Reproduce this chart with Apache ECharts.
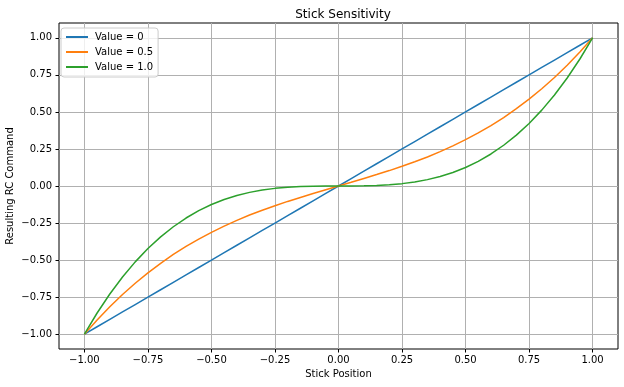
<!DOCTYPE html>
<html>
<head>
<meta charset="utf-8">
<script src="https://cdn.jsdelivr.net/npm/echarts@6/dist/echarts.min.js"></script>
<style>html,body{margin:0;padding:0;background:#fff;}#c{width:624px;height:387px;}</style>
</head>
<body>
<div id="c"></div>
<script>
var stickPos = [-1, -0.95, -0.9, -0.85, -0.8, -0.75, -0.7, -0.65, -0.6, -0.55, -0.5, -0.45, -0.4, -0.35, -0.3, -0.25, -0.2, -0.15, -0.1, -0.05, 0,
  0.05, 0.1, 0.15, 0.2, 0.25, 0.3, 0.35, 0.4, 0.45, 0.5, 0.55, 0.6, 0.65, 0.7, 0.75, 0.8, 0.85, 0.9, 0.95, 1];
var value0 = [-1, -0.95, -0.9, -0.85, -0.8, -0.75, -0.7, -0.65, -0.6, -0.55, -0.5, -0.45, -0.4, -0.35, -0.3, -0.25, -0.2, -0.15, -0.1, -0.05, 0,
  0.05, 0.1, 0.15, 0.2, 0.25, 0.3, 0.35, 0.4, 0.45, 0.5, 0.55, 0.6, 0.65, 0.7, 0.75, 0.8, 0.85, 0.9, 0.95, 1];
var value05 = [-1, -0.904, -0.815, -0.732, -0.656, -0.586, -0.522, -0.462, -0.408, -0.358, -0.313, -0.271, -0.232, -0.196, -0.164, -0.133, -0.104, -0.077, -0.051, -0.025, 0,
  0.025, 0.051, 0.077, 0.104, 0.133, 0.164, 0.196, 0.232, 0.271, 0.313, 0.358, 0.408, 0.462, 0.522, 0.586, 0.656, 0.732, 0.815, 0.904, 1];
var value10 = [-1, -0.857, -0.729, -0.614, -0.512, -0.422, -0.343, -0.275, -0.216, -0.166, -0.125, -0.091, -0.064, -0.043, -0.027, -0.016, -0.008, -0.003, -0.001, 0, 0,
  0, 0.001, 0.003, 0.008, 0.016, 0.027, 0.043, 0.064, 0.091, 0.125, 0.166, 0.216, 0.275, 0.343, 0.422, 0.512, 0.614, 0.729, 0.857, 1];
var xTicks = [-1, -0.75, -0.5, -0.25, 0, 0.25, 0.5, 0.75, 1];
var yTicks = [-1, -0.75, -0.5, -0.25, 0, 0.25, 0.5, 0.75, 1];
var seriesNames = ['Value = 0', 'Value = 0.5', 'Value = 1.0'];
var colors = ['#1f77b4', '#ff7f0e', '#2ca02c'];

function pairs(ys) { return stickPos.map(function (x, i) { return [x, ys[i]]; }); }
function fmt(v) { return v.toFixed(2).replace('-', '\u2212'); }

var font = 'DejaVu Sans';
var chart = echarts.init(document.getElementById('c'), null, { renderer: 'canvas' });
var axisCommon = {
  type: 'value', min: -1.1, max: 1.1,
  axisLine: { show: false, onZero: false },
  axisTick: { show: true, inside: false, length: 3.5, lineStyle: { color: '#000', width: 1 } },
  splitLine: { show: true, lineStyle: { color: '#b0b0b0', width: 1 } },
  nameLocation: 'middle',
  nameMoveOverlap: false,
  nameTextStyle: { fontFamily: font, fontSize: 10, color: '#000' }
};
chart.setOption({
  animation: false,
  backgroundColor: '#fff',
  title: { text: 'Stick Sensitivity', left: 338, top: 4, textAlign: 'center',
    textStyle: { fontFamily: font, fontSize: 12, fontWeight: 'normal', color: '#000' } },
  grid: { left: 59, right: 6, top: 23, bottom: 38, outerBoundsMode: 'none', containLabel: false,
    show: true, borderColor: '#000', borderWidth: 1, backgroundColor: 'transparent' },
  legend: {
    orient: 'vertical', left: 61, top: 28, padding: [3, 5, 4, 5],
    itemWidth: 22, itemHeight: 2, itemGap: 3, icon: 'rect',
    backgroundColor: 'rgba(255,255,255,0.8)', borderColor: '#cccccc', borderWidth: 1, borderRadius: 3,
    textStyle: { fontFamily: font, fontSize: 10, color: '#000', padding: [0, 0, 0, 2], lineHeight: 12 },
    data: seriesNames
  },
  xAxis: Object.assign({}, axisCommon, {
    name: 'Stick Position', nameGap: 20,
    axisTick: Object.assign({}, axisCommon.axisTick, { customValues: xTicks }),
    axisLabel: { customValues: xTicks, formatter: fmt, margin: 6, fontFamily: font, fontSize: 10, color: '#000' }
  }),
  yAxis: Object.assign({}, axisCommon, {
    name: 'Resulting RC Command', nameGap: 44,
    axisTick: Object.assign({}, axisCommon.axisTick, { customValues: yTicks }),
    axisLabel: { customValues: yTicks, formatter: fmt, margin: 7, fontFamily: font, fontSize: 10, color: '#000' }
  }),
  series: [
    { name: seriesNames[0], type: 'line', data: pairs(value0), showSymbol: false, lineStyle: { color: colors[0], width: 1.5 }, itemStyle: { color: colors[0] } },
    { name: seriesNames[1], type: 'line', data: pairs(value05), showSymbol: false, lineStyle: { color: colors[1], width: 1.5 }, itemStyle: { color: colors[1] } },
    { name: seriesNames[2], type: 'line', data: pairs(value10), showSymbol: false, lineStyle: { color: colors[2], width: 1.5 }, itemStyle: { color: colors[2] } }
  ]
});
</script>
</body>
</html>
